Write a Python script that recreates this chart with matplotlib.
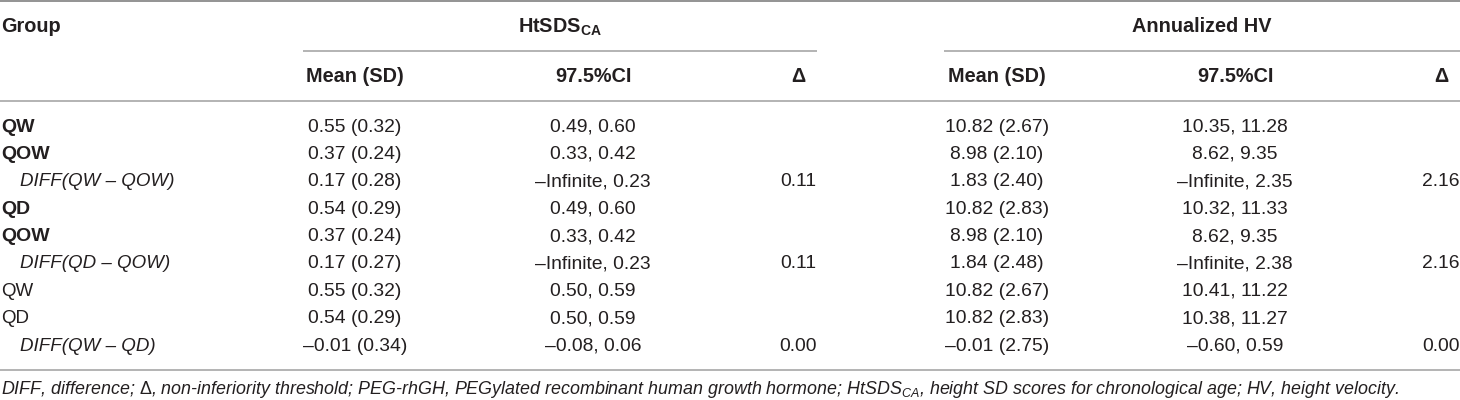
import matplotlib
matplotlib.use("Agg")
import matplotlib.pyplot as plt

plt.rcParams['font.family'] = ['Liberation Sans', 'DejaVu Sans']
plt.rcParams['mathtext.fontset'] = 'custom'
plt.rcParams['mathtext.rm'] = 'Liberation Sans'
plt.rcParams['mathtext.it'] = 'Liberation Sans:italic'
plt.rcParams['mathtext.bf'] = 'Liberation Sans:bold'

# ---------------- data ----------------
groups = ["QW", "QOW", "DIFF(QW \u2013 QOW)", "QD", "QOW", "DIFF(QD \u2013 QOW)",
          "QW", "QD", "DIFF(QW \u2013 QD)"]
group_style = ["bold", "bold", "italic", "bold", "bold", "italic",
               "normal", "normal", "italic"]
ht_mean_sd = ["0.55 (0.32)", "0.37 (0.24)", "0.17 (0.28)", "0.54 (0.29)", "0.37 (0.24)",
              "0.17 (0.27)", "0.55 (0.32)", "0.54 (0.29)", "\u20130.01 (0.34)"]
ht_ci = ["0.49, 0.60", "0.33, 0.42", "\u2013Infinite, 0.23", "0.49, 0.60", "0.33, 0.42",
         "\u2013Infinite, 0.23", "0.50, 0.59", "0.50, 0.59", "\u20130.08, 0.06"]
ht_delta = ["", "", "0.11", "", "", "0.11", "", "", "0.00"]
hv_mean_sd = ["10.82 (2.67)", "8.98 (2.10)", "1.83 (2.40)", "10.82 (2.83)", "8.98 (2.10)",
              "1.84 (2.48)", "10.82 (2.67)", "10.82 (2.83)", "\u20130.01 (2.75)"]
hv_ci = ["10.35, 11.28", "8.62, 9.35", "\u2013Infinite, 2.35", "10.32, 11.33", "8.62, 9.35",
         "\u2013Infinite, 2.38", "10.41, 11.22", "10.38, 11.27", "\u20130.60, 0.59"]
hv_delta = ["", "", "2.16", "", "", "2.16", "", "", "0.00"]

group_header = "Group"
span_headers = [r"HtSDS$_{\mathbf{CA}}$", "Annualized HV"]
sub_headers = ["Mean (SD)", "97.5%CI", "\u0394"]
footnote = (r"DIFF, difference; $\Delta$, non-inferiority threshold; PEG-rhGH, PEGylated recombinant "
            r"human growth hormone; HtSDS$_{\mathit{CA}}$, height SD scores for chronological age; "
            r"HV, height velocity.")

# ---------------- layout ----------------
W, H = 1460, 400
fig = plt.figure(figsize=(W / 100, H / 100), dpi=100)
ax = fig.add_axes([0, 0, 1, 1])
ax.set_xlim(0, W)
ax.set_ylim(H, 0)
ax.axis("off")

TXT = "#231f20"
LINE = "#a7a7a7"
FS_DATA = 13.9
FS_HEAD = 14.3
FS_BOLDLAB = 14.0
FS_LAB = 13.5

col_x = [355, 593, 798, 997, 1235, 1441]
row_y0, row_dy = 127, 27.4

# rules
ax.plot([0, W], [1, 1], color="#8a8a8a", lw=1.3, solid_capstyle="butt")
ax.plot([303, 817], [51, 51], color=LINE, lw=1.2, solid_capstyle="butt")
ax.plot([944, W], [51, 51], color=LINE, lw=1.2, solid_capstyle="butt")
ax.plot([0, W], [100.5, 100.5], color=LINE, lw=1.2, solid_capstyle="butt")
ax.plot([0, W], [369.5, 369.5], color=LINE, lw=1.2, solid_capstyle="butt")

# headers
ax.text(1, 27, group_header, ha="left", va="center", fontsize=FS_HEAD, fontweight="bold", color=TXT)
ax.text(560, 27, span_headers[0], ha="center", va="center", fontsize=FS_HEAD, fontweight="bold", color=TXT)
ax.text(1202, 27, span_headers[1], ha="center", va="center", fontsize=FS_HEAD, fontweight="bold", color=TXT)
for k in range(2):
    for j, s in enumerate(sub_headers):
        ax.text(col_x[3 * k + j], 77, s, ha="center", va="center", fontsize=FS_HEAD,
                fontweight="bold", color=TXT)

# body
columns = [ht_mean_sd, ht_ci, ht_delta, hv_mean_sd, hv_ci, hv_delta]
for i, g in enumerate(groups):
    y = row_y0 + i * row_dy
    st = group_style[i]
    if st == "italic":
        ax.text(20, y, g, ha="left", va="center", fontsize=FS_LAB, fontstyle="italic", color=TXT)
    elif st == "bold":
        ax.text(1, y, g, ha="left", va="center", fontsize=FS_BOLDLAB, fontweight="bold", color=TXT)
    else:
        ax.text(1, y, g, ha="left", va="center", fontsize=FS_LAB, color=TXT)
    for cx, col in zip(col_x, columns):
        if col[i]:
            ax.text(cx, y, col[i], ha="center", va="center", fontsize=FS_DATA, color=TXT)

ax.text(1, 389, footnote, ha="left", va="center", fontsize=12.9, fontstyle="italic", color=TXT)

fig.savefig("out.png", dpi=100)
